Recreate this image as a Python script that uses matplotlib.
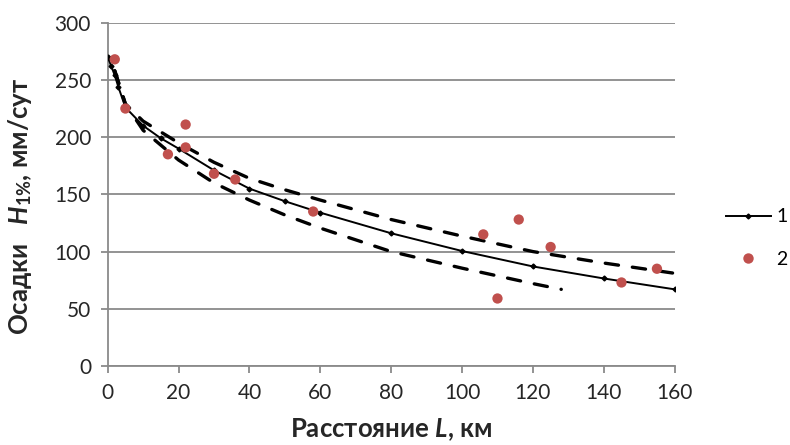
import matplotlib
matplotlib.use("Agg")
import matplotlib.pyplot as plt
from matplotlib.lines import Line2D

plt.rcParams['font.family'] = ['Lato', 'DejaVu Sans']
plt.rcParams['mathtext.fontset'] = 'custom'
plt.rcParams['mathtext.rm'] = 'Lato'
plt.rcParams['mathtext.it'] = 'Lato:italic'
plt.rcParams['mathtext.bf'] = 'Lato:bold'
plt.rcParams['mathtext.bfit'] = 'Lato:bold:italic'

# Curve 1 (fitted dependence)
fit_L = [0, 1, 2, 3, 5, 10, 15, 20, 30, 40, 50, 60, 80, 100, 120, 140, 160]
fit_H = [270, 262, 254, 244, 226, 210, 199, 190, 171, 155, 144, 134, 116, 100.5, 87, 76.5, 67]

# Upper and lower dashed bounds
up_L = [2, 5, 10, 20, 30, 40, 50, 60, 80, 100, 120, 140, 160]
up_H = [258, 229, 214, 195, 178, 164, 154, 145, 128, 113.5, 100, 90, 81]
lo_L = [2, 5, 10, 20, 30, 40, 50, 60, 80, 100, 120, 128]
lo_H = [258, 229, 206, 180, 160, 145, 132, 120.5, 100, 85.5, 72, 67]

# Observations (2)
obs_L = [2, 5, 17, 22, 22, 30, 36, 58, 106, 110, 116, 125, 145, 155]
obs_H = [268, 225, 185, 211, 191, 168, 163, 135, 115, 59, 128, 104, 73, 85]

x_ticks = [0, 20, 40, 60, 80, 100, 120, 140, 160]
y_ticks = [0, 50, 100, 150, 200, 250, 300]

fig = plt.figure(figsize=(7.9, 4.45), dpi=100)
ax = fig.add_axes([0.1363, 0.1775, 0.854 - 0.1363, 0.949 - 0.1775])

grid_c = '#8a8a8a'
ax.set_xlim(0, 160)
ax.set_ylim(0, 300)
ax.set_xticks(x_ticks)
ax.set_yticks(y_ticks)
ax.yaxis.grid(True, color=grid_c, lw=1.3)
ax.set_axisbelow(True)
for s in ['top', 'right']:
    ax.spines[s].set_visible(False)
for s in ['left', 'bottom']:
    ax.spines[s].set_color(grid_c)
    ax.spines[s].set_linewidth(1.3)
ax.tick_params(axis='both', direction='out', length=5, width=1.3, color=grid_c,
               labelsize=15, labelcolor='#262626', pad=7)

ax.plot(up_L, up_H, color='black', lw=2.4, linestyle=(0, (4.0, 4.2)),
        dash_capstyle='round', zorder=3)
ax.plot(lo_L, lo_H, color='black', lw=2.4, linestyle=(0, (4.0, 4.2)),
        dash_capstyle='round', zorder=3)
ax.plot(fit_L, fit_H, color='black', lw=1.4, marker='D', markersize=2.5, zorder=4)
ax.scatter(obs_L, obs_H, s=55, color='#C0504D', edgecolors='none', zorder=5)

ax.set_xlabel(r'Расстояние $\mathbfit{L}$, км', fontsize=18.5, fontweight='bold',
              labelpad=10, color='#262626')
ax.set_ylabel(r'Осадки   $\mathbfit{H}_{\mathbf{1\%}}$, мм/сут', fontsize=18.5,
              fontweight='bold', color='#262626')
ax.yaxis.set_label_coords(-0.13, 0.466)

handles = [Line2D([], [], color='black', lw=1.4, marker='D', markersize=2.5),
           Line2D([], [], color='#C0504D', lw=0, marker='o', markersize=7.5,
                  markeredgewidth=0)]
fig.legend(handles, ['1', '2'], loc='center left', bbox_to_anchor=(0.914, 0.465),
           frameon=False, fontsize=14, handlelength=2.3, labelspacing=1.3,
           handletextpad=0.3, borderpad=0.2, borderaxespad=0.0)

fig.savefig('out.png', dpi=100)
